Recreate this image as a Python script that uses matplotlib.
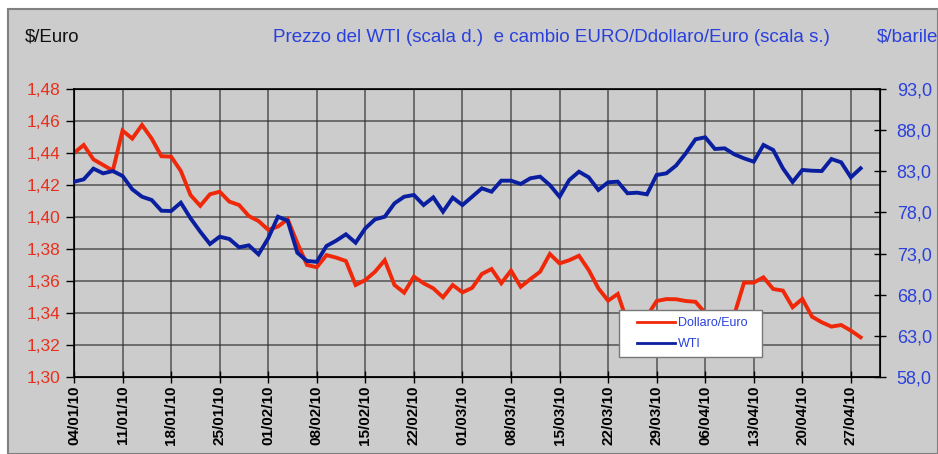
import matplotlib
matplotlib.use("Agg")
import matplotlib.pyplot as plt
from matplotlib.patches import Rectangle
from matplotlib.lines import Line2D
from matplotlib.legend_handler import HandlerLine2D

plt.rcParams['font.family'] = ['Liberation Sans', 'DejaVu Sans']

tick_labels = ["04/01/10", "11/01/10", "18/01/10", "25/01/10", "01/02/10", "08/02/10",
               "15/02/10", "22/02/10", "01/03/10", "08/03/10", "15/03/10", "22/03/10",
               "29/03/10", "06/04/10", "13/04/10", "20/04/10", "27/04/10"]

eurusd = [1.440, 1.445, 1.436, 1.4325, 1.429, 1.454, 1.449, 1.4575, 1.449, 1.438,
          1.4377, 1.4288, 1.4137, 1.407, 1.4142, 1.4158, 1.4096, 1.4075, 1.4006, 1.3975,
          1.392, 1.394, 1.3986, 1.3837, 1.370, 1.3686, 1.3762, 1.3746, 1.3725, 1.3575,
          1.3606, 1.3658, 1.373, 1.3575, 1.3527, 1.3627, 1.3586, 1.3554, 1.3498, 1.3575,
          1.3529, 1.3557, 1.3644, 1.3675, 1.3586, 1.3665, 1.3564, 1.3612, 1.3658, 1.3769,
          1.371, 1.373, 1.3758, 1.3669, 1.3554, 1.3477, 1.3519, 1.334, 1.333, 1.338,
          1.3475, 1.3487, 1.3486, 1.3475, 1.347, 1.340, 1.336, 1.335, 1.339, 1.359,
          1.359, 1.3623, 1.355, 1.354, 1.3436, 1.3488, 1.3377, 1.3342, 1.3315, 1.3325,
          1.329, 1.3248]

wti = [81.73, 82.02, 83.32, 82.75, 83.03, 82.43, 80.81, 79.91, 79.51, 78.21,
       78.17, 79.18, 77.29, 75.66, 74.16, 75.05, 74.77, 73.76, 74.00, 72.91,
       74.86, 77.48, 77.00, 73.10, 72.10, 72.00, 73.92, 74.57, 75.34, 74.32,
       76.07, 77.16, 77.48, 79.10, 79.91, 80.12, 78.90, 79.83, 78.09, 79.79,
       78.90, 79.91, 80.93, 80.52, 81.86, 81.86, 81.46, 82.15, 82.35, 81.33,
       79.91, 81.94, 82.95, 82.27, 80.73, 81.66, 81.74, 80.33, 80.40, 80.20,
       82.55, 82.75, 83.70, 85.19, 86.89, 87.13, 85.71, 85.79, 85.06, 84.57,
       84.17, 86.20, 85.59, 83.36, 81.70, 83.16, 83.07, 83.03, 84.49, 84.09,
       82.27, 83.36]

left_ticks = [1.30, 1.32, 1.34, 1.36, 1.38, 1.40, 1.42, 1.44, 1.46, 1.48]
right_ticks = [58.0, 63.0, 68.0, 73.0, 78.0, 83.0, 88.0, 93.0]

RED = '#f0280a'
BLUE = '#0a1ea0'
RED_TXT = '#e8301c'
BLUE_TXT = '#2a40dc'
GRAY = '#cccccc'

W, H = 938, 454
fig = plt.figure(figsize=(W / 100, H / 100), dpi=100, facecolor='white')

# background panel
fig.patches.append(Rectangle((8 / W, 0), 1 - 8 / W, 1 - 9 / H, transform=fig.transFigure,
                             facecolor=GRAY, edgecolor='#808080', linewidth=1.5, zorder=-10))

ax = fig.add_axes([74 / W, 1 - 377 / H, (880 - 74) / W, (377 - 89) / H])
ax.set_facecolor(GRAY)
x = list(range(len(eurusd)))
ax.plot(x, eurusd, color=RED, lw=2.8, solid_joinstyle='miter', zorder=3)
ax.set_xlim(0, 83)
ax.set_ylim(1.30, 1.48)
ax.set_yticks(left_ticks)
ax.set_yticklabels([f"{v:.2f}".replace('.', ',') for v in left_ticks],
                   color=RED_TXT, fontsize=12.5)
ax.set_xticks(list(range(0, 5 * len(tick_labels), 5)))
ax.set_xticklabels(tick_labels, rotation=90, fontsize=11, fontweight='bold', va='top')
ax.tick_params(axis='x', direction='inout', length=8, width=1, pad=2)
ax.tick_params(axis='y', direction='out', length=6, width=1, pad=4)
ax.grid(True, color='#333333', lw=1.1, alpha=0.8)
ax.set_axisbelow(True)
for s in ax.spines.values():
    s.set_color('black')
    s.set_linewidth(1.2)

ax2 = ax.twinx()
ax2.plot(x, wti, color=BLUE, lw=2.8, solid_joinstyle='miter', zorder=3)
ax2.set_ylim(58, 93)
ax2.set_yticks(right_ticks)
ax2.set_yticklabels([f"{v:.1f}".replace('.', ',') for v in right_ticks],
                    color=BLUE_TXT, fontsize=13)
ax2.tick_params(axis='y', direction='inout', length=8, width=1, pad=8)
ax2.set_xlim(0, 83)

h_red = Line2D([], [], color=RED, lw=2)
h_blue = Line2D([], [], color=BLUE, lw=2)
hmap = {h_red: HandlerLine2D(xpad=0.9), h_blue: HandlerLine2D(xpad=0.9)}
leg = ax2.legend([h_red, h_blue], ['Dollaro/Euro  ', 'WTI'], loc='upper left',
                 bbox_to_anchor=((619 - 74) / (880 - 74), (377 - 310) / (377 - 89)),
                 frameon=True, fancybox=False, edgecolor='#777777', facecolor='white',
                 framealpha=1, fontsize=9, labelspacing=0.75, handlelength=3.9,
                 borderpad=0.55, handletextpad=0.3, borderaxespad=0, handler_map=hmap)
for t in leg.get_texts():
    t.set_color(BLUE_TXT)
leg.set_zorder(10)

fig.text(25 / W, 1 - 37 / H, '$/Euro', fontsize=13.4, color='#111111', va='center', ha='left')
fig.text(273 / W, 1 - 37 / H,
         'Prezzo del WTI (scala d.)  e cambio EURO/Ddollaro/Euro (scala s.)',
         fontsize=13.5, color=BLUE_TXT, va='center', ha='left')
fig.text(877 / W, 1 - 37 / H, '$/barile', fontsize=13.5, color=BLUE_TXT, va='center', ha='left')

fig.savefig('out.png', dpi=100, facecolor='white')
